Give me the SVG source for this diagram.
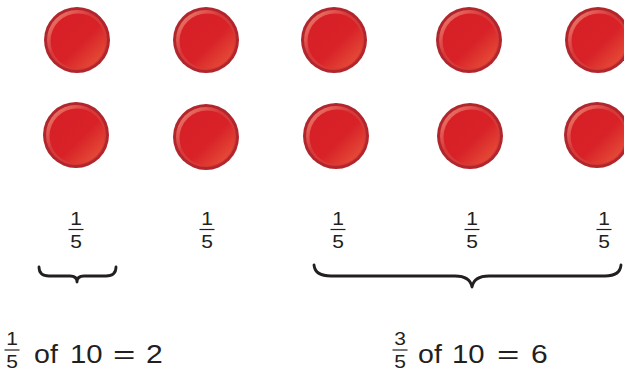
<svg xmlns="http://www.w3.org/2000/svg" xmlns:xlink="http://www.w3.org/1999/xlink" width="624" height="372" viewBox="0 0 624 372">
<style>
  text { font-family: "Liberation Sans", Arial, sans-serif; fill: #231f20; }
  .fr { font-size: 17.5px; text-anchor: middle; }
  .big { font-size: 25.5px; }
  .bar { stroke: #231f20; stroke-width: 1.2; }
  .brace { fill: none; stroke: #231f20; stroke-width: 2.8; stroke-linecap: round; stroke-linejoin: round; }
</style>
<defs>
  <linearGradient id="face" x1="0" y1="0" x2="1" y2="1">
    <stop offset="0" stop-color="#d61f26"/>
    <stop offset="0.55" stop-color="#d82228"/>
    <stop offset="1" stop-color="#ea5a3c"/>
  </linearGradient>
  <linearGradient id="rim" x1="0" y1="0" x2="1" y2="1">
    <stop offset="0" stop-color="#f28a78"/>
    <stop offset="0.4" stop-color="#d9383a"/>
    <stop offset="1" stop-color="#d43a33"/>
  </linearGradient>
  <g id="btn">
    <circle r="33" fill="#b1262c"/>
    <circle r="30" fill="url(#rim)"/>
    <circle cx="1" cy="1" r="27.5" fill="url(#face)"/>
  </g>
</defs>

<g id="counter-1-1"><use xlink:href="#btn" x="77" y="40"/></g>
<g id="counter-1-2"><use xlink:href="#btn" x="206" y="40"/></g>
<g id="counter-1-3"><use xlink:href="#btn" x="334" y="40"/></g>
<g id="counter-1-4"><use xlink:href="#btn" x="469" y="40"/></g>
<g id="counter-1-5"><use xlink:href="#btn" x="598" y="40"/></g>

<g id="counter-2-1"><use xlink:href="#btn" x="76" y="135"/></g>
<g id="counter-2-2"><use xlink:href="#btn" x="206" y="137"/></g>
<g id="counter-2-3"><use xlink:href="#btn" x="336" y="136"/></g>
<g id="counter-2-4"><use xlink:href="#btn" x="470" y="136"/></g>
<g id="counter-2-5"><use xlink:href="#btn" x="597" y="135"/></g>

<g id="frac-1"><text class="fr" transform="translate(76,225) scale(1.2,1)">1</text><line class="bar" x1="68.5" y1="229.5" x2="83.5" y2="229.5"/><text class="fr" transform="translate(76,248) scale(1.2,1)">5</text></g>
<g id="frac-2"><text class="fr" transform="translate(207,225) scale(1.2,1)">1</text><line class="bar" x1="199.5" y1="229.5" x2="214.5" y2="229.5"/><text class="fr" transform="translate(207,248) scale(1.2,1)">5</text></g>
<g id="frac-3"><text class="fr" transform="translate(338,225) scale(1.2,1)">1</text><line class="bar" x1="330.5" y1="229.5" x2="345.5" y2="229.5"/><text class="fr" transform="translate(338,248) scale(1.2,1)">5</text></g>
<g id="frac-4"><text class="fr" transform="translate(472,225) scale(1.2,1)">1</text><line class="bar" x1="464.5" y1="229.5" x2="479.5" y2="229.5"/><text class="fr" transform="translate(472,248) scale(1.2,1)">5</text></g>
<g id="frac-5"><text class="fr" transform="translate(604,225) scale(1.2,1)">1</text><line class="bar" x1="596.5" y1="229.5" x2="611.5" y2="229.5"/><text class="fr" transform="translate(604,248) scale(1.2,1)">5</text></g>

<g id="connectors">
  <path class="brace" d="M39,267 Q39,276 49,276 L70,276 Q77,276 77,282 Q77,276 84,276 L106,276 Q116,276 116,267"/>
  <path class="brace" d="M314,265 Q315,276 331,276 L455,276 Q470,276 472,287 Q474,276 489,276 L605,276 Q620,276 621,265"/>
</g>

<g id="eq-left">
  <text class="fr" transform="translate(12,345) scale(1.2,1)">1</text><line class="bar" x1="4.5" y1="350" x2="19.5" y2="350"/><text class="fr" transform="translate(12,368) scale(1.2,1)">5</text>
  <text class="big" transform="translate(34,363) scale(1.12,1)">of</text>
  <text class="big" transform="translate(70,363) scale(1.15,1)">10</text>
  <text class="big" transform="translate(113,363) scale(1.5,1)">=</text>
  <text class="big" transform="translate(146,363) scale(1.18,1)">2</text>
</g>
<g id="eq-right">
  <text class="fr" transform="translate(400,345) scale(1.2,1)">3</text><line class="bar" x1="392.5" y1="350" x2="407.5" y2="350"/><text class="fr" transform="translate(400,368) scale(1.2,1)">5</text>
  <text class="big" transform="translate(418,363) scale(1.12,1)">of</text>
  <text class="big" transform="translate(452,363) scale(1.15,1)">10</text>
  <text class="big" transform="translate(497,363) scale(1.5,1)">=</text>
  <text class="big" transform="translate(531,363) scale(1.18,1)">6</text>
</g>
</svg>
